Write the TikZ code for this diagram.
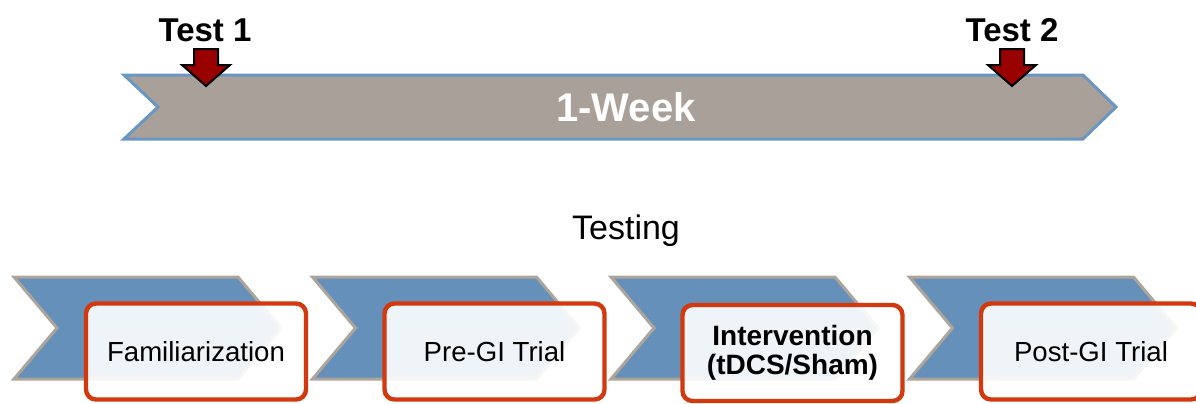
\documentclass[tikz,border=0pt]{standalone}
\usepackage{fontspec}
\setmainfont{Liberation Sans}
\usepackage{tikz}
\definecolor{weekfill}{HTML}{A9A199}
\definecolor{weekline}{HTML}{6A97C2}
\definecolor{stepfill}{HTML}{6590B9}
\definecolor{stepline}{HTML}{ADA59C}
\definecolor{boxred}{HTML}{D2390E}
\definecolor{markred}{HTML}{990000}
\tikzset{
  stage/.style={draw=boxred, line width=2.2pt, rounded corners=5pt, fill=white,
    fill opacity=0.9, text opacity=1, minimum width=110pt, minimum height=48pt,
    align=center, font=\fontsize{13.8}{14.5}\selectfont},
  testlbl/.style={font=\bfseries\fontsize{16.5}{18}\selectfont},
  marker/.style={fill=markred, draw=black, line width=1pt, line join=miter}
}
\begin{document}
\begin{tikzpicture}[x=0.5pt, y=-0.5pt]
\useasboundingbox (0,0) rectangle (1196,403);
\clip (0,0) rectangle (1196,403);
% week bar
\draw[fill=weekfill, draw=weekline, line width=1.5pt]
  (124,75) -- (1083,75) -- (1116,107) -- (1083,139) -- (124,139) -- (158,107) -- cycle;
\node[text=white, font=\bfseries\fontsize{20}{22}\selectfont] (week) at (626,107) {1-Week};
% tests
\node[testlbl] (t1) at (205,30) {Test 1};
\node[testlbl] (t2) at (1012,30) {Test 2};
\foreach \c in {206,1012}
{
  \draw[marker] (\c-12,49) -- (\c+12,49) -- (\c+12,65) -- (\c+24,65) -- (\c,86)
    -- (\c-24,65) -- (\c-12,65) -- cycle;
}
\node[font=\fontsize{17}{19}\selectfont] (testing) at (626,231) {Testing};
% steps
\foreach \i in {0,...,3}
{
  \pgfmathsetmacro{\l}{14+298.5*\i}
  \draw[fill=stepfill, draw=stepline, line width=1.5pt]
    (\l,277) -- (\l+224,277) -- (\l+267,328) -- (\l+224,379) -- (\l,379) -- (\l+43,328) -- cycle;
}
\node[stage] (fam)  at (196,351.5)    {Familiarization};
\node[stage] (pre)  at (494.5,351.5)  {Pre-GI Trial};
\node[stage, font=\bfseries\fontsize{14}{14.5}\selectfont] (int) at (792.5,353) {Intervention\\(tDCS/Sham)};
\node[stage] (post) at (1091,351.5)   {Post-GI Trial};
\end{tikzpicture}
\end{document}
